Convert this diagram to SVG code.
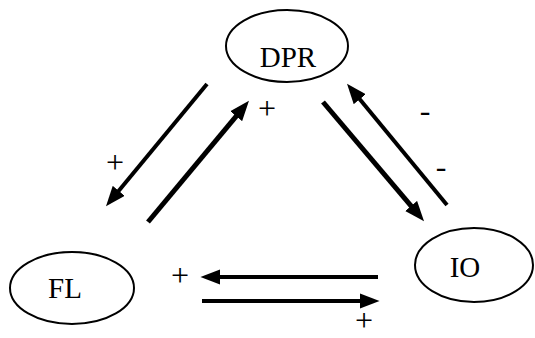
<svg xmlns="http://www.w3.org/2000/svg" width="535" height="338" viewBox="0 0 535 338">
<style>
.node ellipse{fill:#fff;stroke:#000;stroke-width:2}
text{font-family:"Liberation Serif","Times New Roman",serif;fill:#000}
.lbl{font-size:29px;text-anchor:middle}
.sign{font-size:32px;text-anchor:middle}
.conn line{stroke:#000;stroke-width:4;fill:none;marker-end:url(#ah)}
.conn line.thick{stroke-width:5}
</style>
<defs>
<marker id="ah" markerUnits="userSpaceOnUse" markerWidth="20" markerHeight="16" refX="4" refY="7" orient="auto" viewBox="0 0 18 14">
<path d="M0,0 L18,7 L0,14 z" fill="#000"/>
</marker>
</defs>
<rect width="535" height="338" fill="#fff"/>
<g id="DPR" class="node">
<ellipse cx="287" cy="46" rx="61" ry="36"/>
<text class="lbl" x="288" y="67">DPR</text>
</g>
<g id="FL" class="node">
<ellipse cx="72" cy="288" rx="62" ry="36"/>
<text class="lbl" x="65" y="298">FL</text>
</g>
<g id="IO" class="node">
<ellipse cx="474" cy="265" rx="59" ry="37"/>
<text class="lbl" x="465" y="277">IO</text>
</g>
<g id="connectors" class="conn">
<line x1="207" y1="84" x2="115.9" y2="194.2"/>
<line class="thick" x1="148" y1="222" x2="239" y2="112.8"/>
<line class="thick" x1="323" y1="102" x2="414" y2="209.3"/>
<line x1="447" y1="205" x2="356.9" y2="95.8"/>
<line x1="378" y1="277" x2="216" y2="277"/>
<line x1="202" y1="301" x2="364" y2="301"/>
</g>
<g id="labels">
<text class="sign" x="115" y="173">+</text>
<text class="sign" x="267" y="119">+</text>
<text class="sign" x="180" y="286">+</text>
<text class="sign" x="364" y="331">+</text>
<text class="sign" x="425" y="121">-</text>
<text class="sign" x="441" y="177">-</text>
</g>
</svg>
